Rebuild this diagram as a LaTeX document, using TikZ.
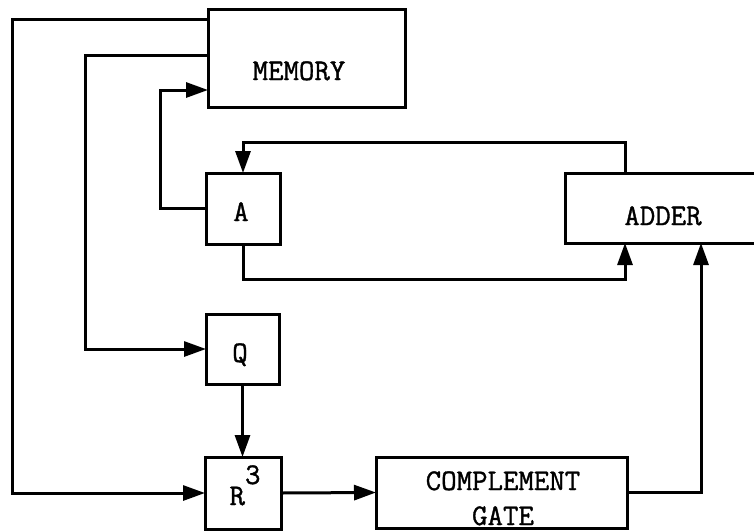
\documentclass[tikz,border=0pt]{standalone}
\usepackage{fontspec}
\setmonofont[FakeBold=1.2]{Latin Modern Mono}
\usetikzlibrary{arrows.meta}
\tikzset{
  blk/.style={draw, rectangle, line width=3pt, inner sep=0pt, outer sep=0pt},
  lbl/.style={inner sep=0pt, anchor=base, font=\ttfamily\fontsize{30}{36}\selectfont},
  wire/.style={line width=3pt},
  arr/.style={wire, -{Triangle[length=22pt,width=15pt]}},
}
\begin{document}
\begin{tikzpicture}[x=1pt,y=-1pt]
\useasboundingbox (0,0) rectangle (754,531);
\clip (0,0) rectangle (754,531);
% boxes
\node[blk, minimum width=197pt, minimum height=98pt] (mem) at (306.5,58) {};
\node[blk, minimum width=74pt, minimum height=71pt] (A) at (243,208.5) {};
\node[blk, minimum width=205pt, minimum height=70pt] (adder) at (667.5,208) {};
\node[blk, minimum width=73pt, minimum height=70pt] (Q) at (242.5,349) {};
\node[blk, minimum width=76pt, minimum height=72pt] (R) at (243,493) {};
\node[blk, minimum width=251pt, minimum height=71pt] (cg) at (501.5,492.5) {};
% labels
\node[lbl] (tmem) at (299,80) {MEMORY};
\node[lbl] (tA) at (241,221) {A};
\node[lbl] (tadd) at (663,225) {ADDER};
\node[lbl] (tQ) at (240,362) {Q};
\node[lbl] (tR) at (245,505) {R\raisebox{21pt}{3}};
\node[lbl] (tcg1) at (503,490) {COMPLEMENT};
\node[lbl] (tcg2) at (503,525) {GATE};
% connectors
\draw[arr] ([yshift=-10pt]mem.north west) -| (12,493) -- (R.west);
\draw[arr] ([yshift=-46pt]mem.north west) -| (85,349) -- (Q.west);
\draw[arr] (A.west) -- ++(-46,0) |- ([yshift=-81pt]mem.north west);
\draw[arr] ([xshift=60pt]adder.north west) -- ++(0,-31) -| (A.north);
\draw[arr] (A.south) -- ++(0,35) -| ([xshift=60pt]adder.south west);
\draw[arr] (Q.south) -- (Q.south |- R.north);
\draw[arr] (R.east) -- (cg.west);
\draw[arr] (cg.east) -- ++(74,0) -| ([xshift=136pt]adder.south west);
\end{tikzpicture}
\end{document}
